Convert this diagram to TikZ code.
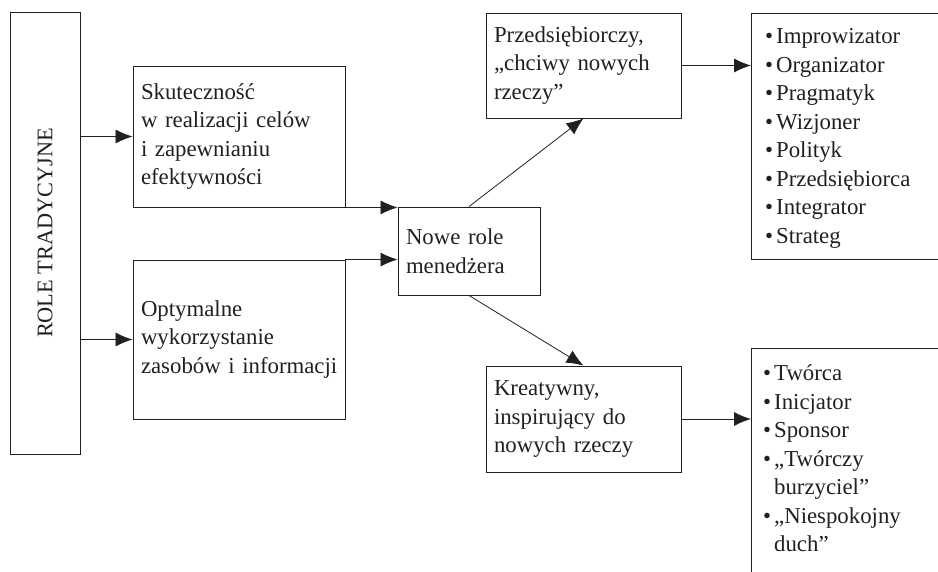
\documentclass[tikz,border=0pt]{standalone}
\usepackage{fontspec}
\setmainfont{Liberation Serif}
\usetikzlibrary{arrows.meta}
\definecolor{ink}{HTML}{231F20}
\newcommand\bul{•\kern3pt}
\begin{document}
\begin{tikzpicture}[x=1pt,y=-1pt,
  box/.style={draw=ink, line width=0.9pt, inner sep=0pt, text=ink},
  txt/.style={font=\fontsize{22.8}{28.5}\selectfont, align=left, text=ink, inner sep=0pt},
  arr/.style={draw=ink, line width=0.8pt, -{Latex[length=17pt,width=14pt]}}]
\useasboundingbox (0,0) rectangle (938,572);
\begin{scope}
\clip (0,0) rectangle (938,572);
% role box
\node[box, minimum width=70pt, minimum height=442pt] (role) at (45,233) {};
\node[txt, rotate=90, font=\fontsize{22.3}{28.5}\selectfont] (roletxt) at (role.center) {ROLE TRADYCYJNE};
% second column
\node[box, txt, minimum width=212pt, minimum height=141pt, text width=196pt] (skut) at (239,136.5)
  {Skuteczność\\\mbox{w realizacji celów}\\i zapewnianiu\\efektywności};
\node[box, txt, minimum width=212pt, minimum height=159pt, text width=196pt] (opt) at (239,339.5)
  {Optymalne\\wykorzystanie\\\mbox{zasobów i informacji}};
% centre
\node[box, txt, minimum width=142pt, minimum height=88pt, text width=126pt] (nowe) at (469,251)
  {Nowe role\\menedżera};
% third column
\node[box, txt, minimum width=195pt, minimum height=105pt, text width=179pt] (przed) at (583.5,65.5)
  {Przedsiębiorczy,\\\mbox{„chciwy nowych}\\rzeczy”};
\node[box, txt, minimum width=195pt, minimum height=106pt, text width=179pt] (kreat) at (583.5,419)
  {Kreatywny,\\\mbox{inspirujący do}\\\mbox{nowych rzeczy}};
% lists
\node[box, minimum width=230pt, minimum height=246pt, anchor=north west] (list1) at (751,13) {};
\node[txt, anchor=north west] (list1txt) at (765,28.4)
  {\bul Improwizator\\\bul Organizator\\\bul Pragmatyk\\\bul Wizjoner\\\bul Polityk\\\bul Przedsiębiorca\\\bul Integrator\\\bul Strateg};
\node[box, minimum width=230pt, minimum height=270pt, anchor=north west] (list2) at (751,348) {};
\node[txt, anchor=north west] (list2txt) at (763,364.9)
  {\bul Twórca\\\bul Inicjator\\\bul Sponsor\\\bul „Twórczy\\\hphantom{\bul}burzyciel”\\\bul „Niespokojny\\\hphantom{\bul}duch”};
% connectors
\draw[arr] (role.east |- skut.west) -- (skut.west);
\draw[arr] (role.east |- opt.west) -- (opt.west);
\draw[arr] (skut.south east) -- (skut.south east -| nowe.west);
\draw[arr] (opt.north east) -- (opt.north east -| nowe.west);
\draw[arr] (nowe.north) -- (przed.south);
\draw[arr] (nowe.south) -- (kreat.north);
\draw[arr] (przed.east) -- (przed.east -| list1.west);
\draw[arr] (kreat.east) -- (kreat.east -| list2.west);
\end{scope}
\end{tikzpicture}
\end{document}
